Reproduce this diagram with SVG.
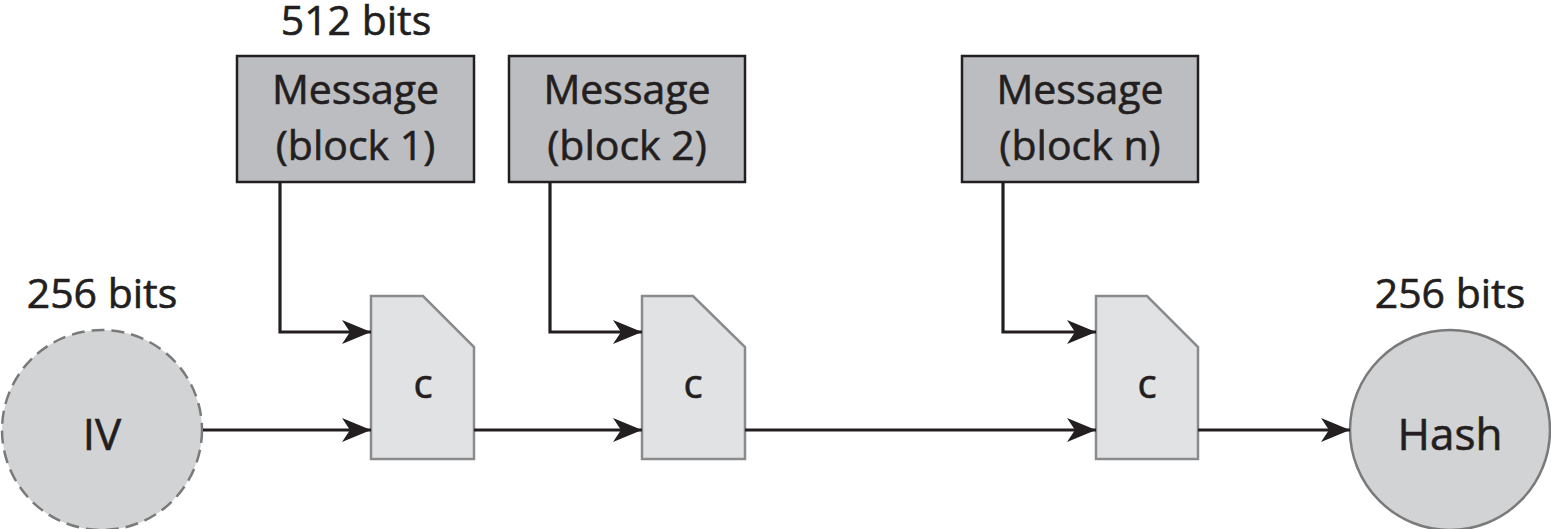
<svg xmlns="http://www.w3.org/2000/svg" width="1551" height="529" viewBox="0 0 1551 529">
<defs>
<style>
text{font-family:"Open Sans","Noto Sans",sans-serif;fill:#231f20;stroke:#231f20;stroke-width:0.6;text-anchor:middle}
.lbl{font-size:41px}
.msg{fill:#bcbdc0;stroke:#231f20;stroke-width:2.5}
.cmp{fill:#e1e2e4;stroke:#8a8b8d;stroke-width:2.5}
.wire{fill:none;stroke:#231f20;stroke-width:3.2}
.ct{font-size:40px}
</style>
<marker id="arr" markerUnits="userSpaceOnUse" markerWidth="32" markerHeight="28" viewBox="-30 -14 32 28" refX="0" refY="0" orient="auto">
<path d="M0,0 L-29,-12 L-21,0 L-29,12 Z" fill="#231f20"/>
</marker>
</defs>
<g id="iv">
<circle cx="102" cy="430" r="100" fill="#d1d3d4" stroke="#7a7a7a" stroke-width="2.5" stroke-dasharray="13,7"/>
<text x="102" y="450" class="lbl" style="font-size:44px">IV</text>
<text x="102" y="308" class="lbl">256 bits</text>
</g>
<g id="msg1">
<rect x="237" y="56" width="237" height="126" class="msg"/>
<text x="355.5" y="104" class="lbl">Message</text>
<text x="355.5" y="160" class="lbl">(block 1)</text>
<text x="356" y="35" class="lbl">512 bits</text>
</g>
<g id="msg2">
<rect x="509" y="56" width="236" height="126" class="msg"/>
<text x="627" y="104" class="lbl">Message</text>
<text x="627" y="160" class="lbl">(block 2)</text>
</g>
<g id="msgn">
<rect x="962" y="56" width="236" height="126" class="msg"/>
<text x="1080" y="104" class="lbl">Message</text>
<text x="1080" y="160" class="lbl">(block n)</text>
</g>
<g id="c1">
<path d="M371,296 L423,296 L474,347 L474,459 L371,459 Z" class="cmp"/>
<text x="423" y="398" class="ct">c</text>
</g>
<g id="c2">
<path d="M642,296 L693,296 L745,347 L745,459 L642,459 Z" class="cmp"/>
<text x="693" y="398" class="ct">c</text>
</g>
<g id="cn">
<path d="M1096,296 L1147,296 L1198,347 L1198,459 L1096,459 Z" class="cmp"/>
<text x="1147" y="398" class="ct">c</text>
</g>
<g id="hash">
<circle cx="1450" cy="430" r="100" fill="#d1d3d4" stroke="#7a7a7a" stroke-width="2.5"/>
<text x="1450" y="450" class="lbl" style="font-size:44px">Hash</text>
<text x="1450" y="308" class="lbl">256 bits</text>
</g>
<g id="connectors">
<path d="M280,183 V332 H371" class="wire" marker-end="url(#arr)"/>
<path d="M550,183 V332 H642" class="wire" marker-end="url(#arr)"/>
<path d="M1003,183 V332 H1096" class="wire" marker-end="url(#arr)"/>
<path d="M203,430 H371" class="wire" marker-end="url(#arr)"/>
<path d="M474,430 H642" class="wire" marker-end="url(#arr)"/>
<path d="M745,430 H1096" class="wire" marker-end="url(#arr)"/>
<path d="M1198,430 H1350" class="wire" marker-end="url(#arr)"/>
</g>
</svg>
